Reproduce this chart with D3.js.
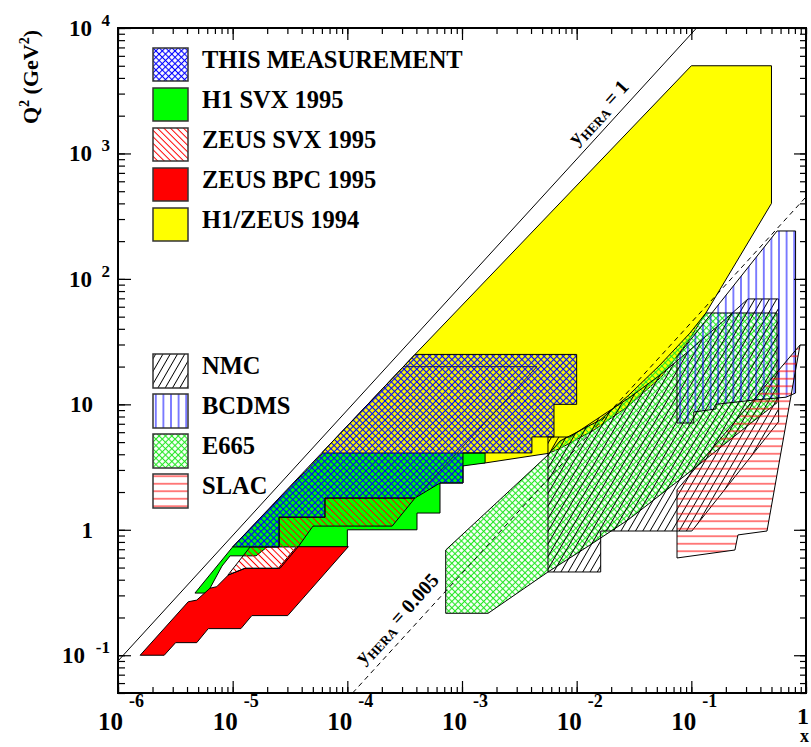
<!DOCTYPE html>
<html><head><meta charset="utf-8">
<script src="https://cdn.jsdelivr.net/npm/d3@7"></script>
<style>
body{margin:0;background:#fff}
svg{display:block}
text{font-family:"Liberation Serif","Times New Roman",serif;font-weight:bold;fill:#000}
</style>
</head><body>
<svg id="c" width="811" height="747"></svg>
<script>
// ---------- axes ----------
const xDomain = [1e-6, 1];
const yDomain = [0.05, 1e4];
const xMajor = [1e-6, 1e-5, 1e-4, 1e-3, 1e-2, 1e-1, 1];
const xTickBase = ["10", "10", "10", "10", "10", "10", "1"];
const xTickExp  = ["-6", "-5", "-4", "-3", "-2", "-1", ""];
const yMajor = [0.1, 1, 10, 100, 1000, 10000];
const yTickBase = ["10", "1", "10", "10", "10", "10"];
const yTickExp  = ["-1", "", "", "2", "3", "4"];

// ---------- kinematic lines ----------
const sHERA = 90000;            // GeV^2
const yHERAvalues = [1, 0.005];

// ---------- regions: [x, Q2] ----------
const h1zeus1994 = [[0.1,5000],[0.5,5000],[0.5,400],[0.134,53.5],[0.0955,32.6],[0.0551,16.6],[0.0279,9.6],[0.0142,6.25],[0.0072,4.46],[0.0057,4.07],[0.00159,3.41],[6.1e-5,3.41],[6.1e-5,4.17],[3.89e-4,25]];
const h1svx1995 = [[4.69e-6,0.313],[1.0e-5,0.73],[6.14e-5,4.09],[1.59e-3,4.09],[1.59e-3,3.41],[1.02e-3,3.23],[1.02e-3,2.36],[6.43e-4,2.36],[6.43e-4,1.36],[4.05e-4,1.36],[4.05e-4,1.0],[1.0e-4,1.0],[1.0e-4,0.73],[2.0e-5,0.73],[1.6e-5,0.62],[9.5e-6,0.62],[8.07e-6,0.514],[6.34e-6,0.342],[6.1e-6,0.313]];
const zeusBPC1995 = [[1.56e-6,0.1],[2.53e-6,0.1],[3.18e-6,0.126],[4.86e-6,0.126],[6.13e-6,0.163],[1.18e-5,0.163],[1.47e-5,0.207],[3.02e-5,0.207],[1.02e-4,0.733],[3.61e-5,0.733],[2.5e-5,0.493],[1.28e-5,0.493],[9.17e-6,0.436],[7.26e-6,0.352],[6.34e-6,0.342],[4.86e-6,0.275],[4.1e-6,0.267]];
const zeusSVX1995 = [[2.54e-5,1.26],[6.38e-5,1.26],[6.38e-5,1.79],[3.89e-4,1.79],[2.46e-4,1.07],[5.02e-5,1.07],[3.72e-5,0.73],[2.59e-5,0.493],[1.28e-5,0.493],[9.1e-6,0.436],[1.42e-5,0.73],[2.54e-5,0.73]];
const thisMeasurement = [[3.89e-4,25],[0.01,25],[0.01,10],[6.34e-3,10],[6.34e-3,5.5],[4.07e-3,5.5],[4.07e-3,4.1],[1.02e-3,4.1],[1.02e-3,2.36],[6.43e-4,2.36],[3.89e-4,1.79],[6.38e-5,1.79],[6.38e-5,1.26],[2.54e-5,1.26],[2.54e-5,0.73],[1.0e-5,0.73]];
const thisMeasurementInner = [[3.12e-4,20],[4.51e-3,20],[3.89e-4,1.79]];
const e665 = [[7.21e-4,0.69],[7.21e-4,0.216],[1.69e-3,0.216],[5.62e-3,0.461],[0.0131,0.757],[0.0281,1.2],[0.0533,1.89],[0.11,3.17],[0.3,6.6],[0.559,10.3],[0.559,53.5],[0.134,53.5],[0.0973,37],[0.0533,20.6],[0.0281,11.7],[0.016,7.5],[7.16e-3,5.1],[5.62e-3,3.95]];
const nmc = [[5.62e-3,5.49],[8.75e-3,5.49],[0.016,7.93],[0.0292,11.4],[0.0533,17.1],[0.0973,27.1],[0.178,43.7],[0.312,69.2],[0.577,69.2],[0.577,7.27],[0.101,0.978],[0.0162,0.978],[0.0162,0.461],[5.62e-3,0.461]];
const bcdms = [[0.075,23.9],[0.559,241],[0.811,241],[0.811,12.3],[0.669,11.4],[0.345,10.8],[0.164,10],[0.164,9.18],[0.105,8.69],[0.105,7.1],[0.075,7.1]];
const slac = [[0.075,2.08],[0.887,29.7],[0.457,0.978],[0.255,0.91],[0.24,0.69],[0.075,0.596]];

// ---------- legends ----------
const legendTop = ["THIS MEASUREMENT", "H1 SVX 1995", "ZEUS SVX 1995", "ZEUS BPC 1995", "H1/ZEUS 1994"];
const legendBottom = ["NMC", "BCDMS", "E665", "SLAC"];

// ---------- setup ----------
const svg = d3.select("#c");
const L = 118, R = 806, T = 28, B = 693;
const x = d3.scaleLog().domain(xDomain).range([L, R]);
const y = d3.scaleLog().domain(yDomain).range([B, T]);

const defs = svg.append("defs");
function pattern(id, w, angle, color, sw, cross) {
  const p = defs.append("pattern").attr("id", id)
    .attr("patternUnits", "userSpaceOnUse")
    .attr("width", w).attr("height", w)
    .attr("patternTransform", `rotate(${angle})`);
  p.append("line").attr("x1", w/2).attr("y1", -1).attr("x2", w/2).attr("y2", w+1)
    .attr("stroke", color).attr("stroke-width", sw);
  if (cross) p.append("line").attr("x1", -1).attr("y1", w/2).attr("x2", w+1).attr("y2", w/2)
    .attr("stroke", color).attr("stroke-width", sw);
}
pattern("pBlueX", 4.5, 45, "#0000ff", 1.1, true);
pattern("pGreenX", 4.5, 45, "#22e622", 1.1, true);
pattern("pZeus", 4.6, -45, "#ff0000", 1.0, false);
pattern("pNMC", 6.3, 30, "#000000", 0.9, false);
pattern("pBCDMS", 7.6, 0, "#0000ff", 1.0, false);
pattern("pSLAC", 7.5, 90, "#ff0000", 1.0, false);

const style = {
  "THIS MEASUREMENT": {fill: "url(#pBlueX)", bg: "#fff", data: thisMeasurement},
  "H1 SVX 1995": {fill: "#00ff00", data: h1svx1995},
  "ZEUS SVX 1995": {fill: "url(#pZeus)", bg: "#fff", data: zeusSVX1995},
  "ZEUS BPC 1995": {fill: "#ff0000", data: zeusBPC1995},
  "H1/ZEUS 1994": {fill: "#ffff00", data: h1zeus1994},
  "NMC": {fill: "url(#pNMC)", bg: "#fff", data: nmc},
  "BCDMS": {fill: "url(#pBCDMS)", bg: "#fff", data: bcdms},
  "E665": {fill: "url(#pGreenX)", bg: "#fff", data: e665},
  "SLAC": {fill: "url(#pSLAC)", bg: "#fff", data: slac}
};

const clip = defs.append("clipPath").attr("id", "plotclip");
clip.append("rect").attr("x", L).attr("y", T).attr("width", R-L).attr("height", B-T);

const line = d3.line().x(d => x(d[0])).y(d => y(d[1]));
const plot = svg.append("g").attr("clip-path", "url(#plotclip)");

const order = ["H1/ZEUS 1994", "H1 SVX 1995", "ZEUS BPC 1995", "ZEUS SVX 1995", "THIS MEASUREMENT", "E665", "NMC", "BCDMS", "SLAC"];
order.forEach(name => {
  const st = style[name];
  plot.append("path").attr("d", line(st.data) + "Z")
    .attr("fill", st.fill).attr("stroke", "#000").attr("stroke-width", 1)
    .attr("stroke-linejoin", "miter");
});
plot.append("path").attr("d", line(thisMeasurementInner))
  .attr("fill", "none").attr("stroke", "#202060").attr("stroke-width", 1);

// kinematic lines
const yLine1 = [[xDomain[0], sHERA*yHERAvalues[0]*xDomain[0]], [yDomain[1]/(sHERA*yHERAvalues[0]), yDomain[1]]];
const yLine2 = [[yDomain[0]/(sHERA*yHERAvalues[1]), yDomain[0]], [xDomain[1], sHERA*yHERAvalues[1]*xDomain[1]]];
plot.append("path").attr("d", line(yLine1)).attr("stroke", "#000").attr("stroke-width", 1).attr("fill", "none");
plot.append("path").attr("d", line(yLine2)).attr("stroke", "#000").attr("stroke-width", 1)
  .attr("stroke-dasharray", "5,4").attr("fill", "none");

const p1 = [x(1e-5), y(sHERA*1e-5)], p2 = [x(1e-3), y(sHERA*1e-3)];
const ang = Math.atan2(p2[1]-p1[1], p2[0]-p1[0]) * 180 / Math.PI;
function lineLabel(xv, yv, dy, val) {
  const px = x(xv), py = y(sHERA*yv*xv);
  const t = svg.append("text").attr("transform", `translate(${px},${py}) rotate(${ang})`)
    .attr("text-anchor", "middle").attr("dy", dy).attr("font-size", 20);
  t.append("tspan").text("y");
  t.append("tspan").attr("font-size", 13).attr("dy", 4).text("HERA");
  t.append("tspan").attr("dy", -4).text(" = " + val);
}
lineLabel(0.01945, yHERAvalues[0], -9, "1");
lineLabel(3.505e-4, yHERAvalues[1], -11, "0.005");

// ---------- axes ----------
function ax(gen, tx, ty, values, size) {
  const g = svg.append("g").attr("transform", `translate(${tx},${ty})`)
    .call(gen.tickValues(values).tickSize(size).tickFormat(""));
  g.select(".domain").remove();
  g.selectAll("line").attr("stroke", "#000").attr("stroke-width", 1.2);
}
const xMinor = x.ticks(), yMinor = y.ticks();
ax(d3.axisTop(x), 0, B, xMinor, 6);
ax(d3.axisTop(x), 0, B, xMajor, 12);
ax(d3.axisBottom(x), 0, T, xMinor, 6);
ax(d3.axisBottom(x), 0, T, xMajor, 12);
ax(d3.axisRight(y), L, 0, yMinor, 7);
ax(d3.axisRight(y), L, 0, yMajor, 13);
ax(d3.axisLeft(y), R, 0, yMinor, 6);
ax(d3.axisLeft(y), R, 0, yMajor, 12);

svg.append("rect").attr("x", L).attr("y", T).attr("width", R-L).attr("height", B-T)
  .attr("fill", "none").attr("stroke", "#000").attr("stroke-width", 2);

// x tick labels
xMajor.forEach((v, i) => {
  const px = x(v);
  if (xTickExp[i] === "") {
    svg.append("text").attr("x", px - 3).attr("y", 724).attr("text-anchor", "middle")
      .attr("font-size", 24).text(xTickBase[i]);
  } else {
    svg.append("text").attr("x", px - 20).attr("y", 730).attr("font-size", 25).text(xTickBase[i]);
    svg.append("text").attr("x", px + 11).attr("y", 707).attr("font-size", 18).text(xTickExp[i]);
  }
});
// y tick labels
yMajor.forEach((v, i) => {
  const py = y(v);
  if (yTickExp[i] === "") {
    svg.append("text").attr("x", 93).attr("y", py + 8).attr("text-anchor", "end")
      .attr("font-size", 23).text(yTickBase[i]);
  } else {
    svg.append("text").attr("x", 110).attr("y", py - 2).attr("text-anchor", "end")
      .attr("font-size", 17).text(yTickExp[i]);
    const w = yTickExp[i].length > 1 ? 25 : 18;
    svg.append("text").attr("x", 110 - w).attr("y", py + 8).attr("text-anchor", "end")
      .attr("font-size", 23).text(yTickBase[i]);
  }
});

// axis titles
const yt = svg.append("text").attr("transform", "translate(38,30) rotate(-90)")
  .attr("text-anchor", "end").attr("font-size", 22);
yt.append("tspan").text("Q");
yt.append("tspan").attr("font-size", 14).attr("dy", -9).text("2");
yt.append("tspan").attr("dy", 9).text(" (GeV");
yt.append("tspan").attr("font-size", 14).attr("dy", -9).text("2");
yt.append("tspan").attr("dy", 9).text(")");
svg.append("text").attr("x", 809).attr("y", 742).attr("text-anchor", "end").attr("font-size", 18).text("x");

// ---------- legends ----------
function legend(names, top0, h) {
  names.forEach((name, i) => {
    const st = style[name];
    const ty = top0 + i*40;
    if (st.bg) svg.append("rect").attr("x", 153).attr("y", ty).attr("width", 35).attr("height", h).attr("fill", st.bg);
    svg.append("rect").attr("x", 153).attr("y", ty).attr("width", 35).attr("height", h)
      .attr("fill", st.fill).attr("stroke", "#333").attr("stroke-width", 1.5);
    svg.append("text").attr("x", 202).attr("y", ty + 20).attr("font-size", 24.5).text(name);
  });
}
legend(legendTop, 48, 33);
legend(legendBottom, 354, 34);
</script>
</body></html>
